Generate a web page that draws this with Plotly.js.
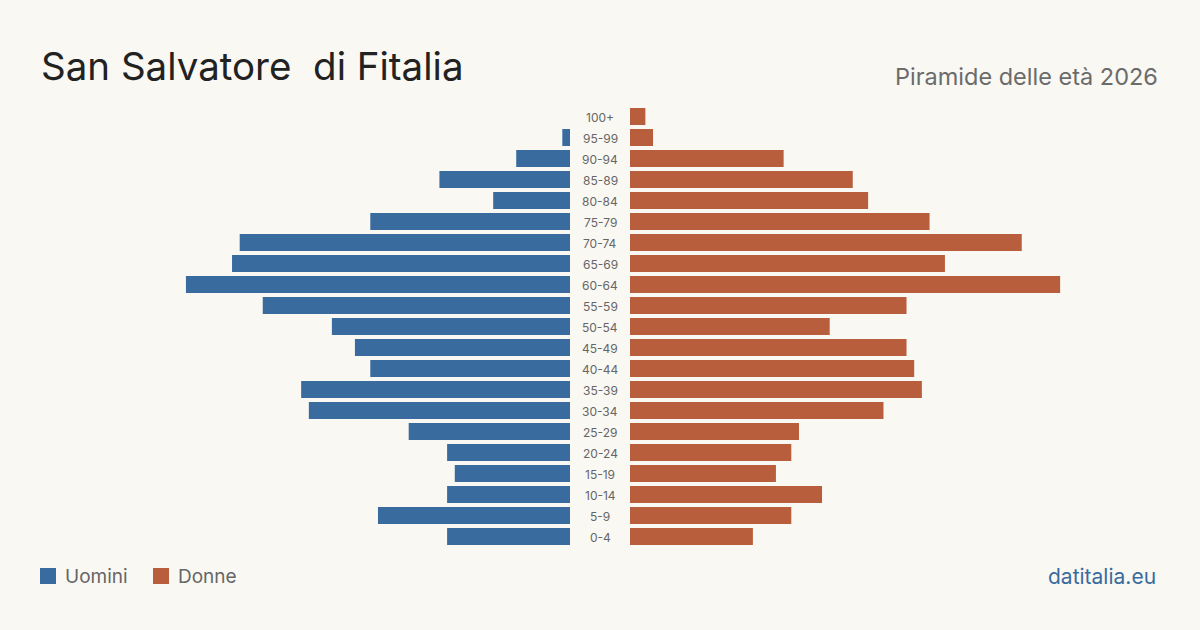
<!DOCTYPE html>
<html>
<head>
<meta charset="utf-8">
<script src="https://cdn.plot.ly/plotly-3.0.1.min.js"></script>
<style>
html,body{margin:0;padding:0;background:#f9f8f3;}
#chart{width:1200px;height:630px;}
</style>
</head>
<body>
<div id="chart"></div>
<script>
const ageGroups = ["0-4","5-9","10-14","15-19","20-24","25-29","30-34","35-39","40-44","45-49","50-54","55-59","60-64","65-69","70-74","75-79","80-84","85-89","90-94","95-99","100+"];
const men   = [16,25,16,15,16,21,34,35,26,28,31,40,50,44,43,26,10,17,7,1,0];
const women = [16,21,25,19,21,22,33,38,37,36,26,36,56,41,51,39,31,29,20,3,2];

const BLUE = "#3a6b9e";
const ORANGE = "#b95e3c";
const FONT = "Inter, 'Open Sans', sans-serif";
const XMAX = 69;

const traces = [
  {type:"bar", orientation:"h", y:ageGroups, x:men, xaxis:"x", yaxis:"y",
   marker:{color:BLUE}, name:"Uomini", hoverinfo:"x+y"},
  {type:"bar", orientation:"h", y:ageGroups, x:women, xaxis:"x2", yaxis:"y",
   marker:{color:ORANGE}, name:"Donne", hoverinfo:"x+y"}
];

const annotations = ageGroups.map(g => ({
  x:0.5, xref:"paper", y:g, yref:"y", text:g, showarrow:false,
  xanchor:"center", yanchor:"middle", yshift:-1, font:{family:FONT, size:12, color:"#666"}
}));

annotations.push(
  {x:39/1200, y:1-66/630, xref:"paper", yref:"paper", text:"San Salvatore  di Fitalia",
   showarrow:false, xanchor:"left", yanchor:"middle", font:{family:FONT, size:38.5, color:"#222"}},
  {x:1160/1200, y:1-76/630, xref:"paper", yref:"paper", text:"Piramide delle età 2026",
   showarrow:false, xanchor:"right", yanchor:"middle", font:{family:FONT, size:23.5, color:"#6b6b6b"}},
  {x:63/1200, y:1-576/630, xref:"paper", yref:"paper", text:"Uomini",
   showarrow:false, xanchor:"left", yanchor:"middle", font:{family:FONT, size:19, color:"#666"}},
  {x:176/1200, y:1-576/630, xref:"paper", yref:"paper", text:"Donne",
   showarrow:false, xanchor:"left", yanchor:"middle", font:{family:FONT, size:19, color:"#666"}},
  {x:1158/1200, y:1-576/630, xref:"paper", yref:"paper", text:"datitalia.eu",
   showarrow:false, xanchor:"right", yanchor:"middle", font:{family:FONT, size:21, color:"#3a6b9e"}}
);

const shapes = [
  {type:"rect", xref:"paper", yref:"paper", x0:40/1200, x1:56/1200, y0:1-584/630, y1:1-568/630,
   fillcolor:BLUE, line:{width:0}},
  {type:"rect", xref:"paper", yref:"paper", x0:153/1200, x1:169/1200, y0:1-584/630, y1:1-568/630,
   fillcolor:ORANGE, line:{width:0}}
];

const layout = {
  width:1200, height:630,
  margin:{l:0,r:0,t:0,b:0},
  paper_bgcolor:"#f9f8f3", plot_bgcolor:"#f9f8f3",
  showlegend:false,
  bargap:0.19,
  xaxis:{domain:[40/1200, 570/1200], range:[XMAX,0], visible:false, fixedrange:true},
  xaxis2:{domain:[630/1200, 1160/1200], range:[0,XMAX], visible:false, fixedrange:true},
  yaxis:{domain:[(630-547)/630, (630-106)/630], range:[-0.5,20.5], type:"category",
         categoryorder:"array", categoryarray:ageGroups, visible:false, fixedrange:true},
  annotations:annotations,
  shapes:shapes,
  font:{family:FONT}
};

Plotly.newPlot("chart", traces, layout, {displayModeBar:false, staticPlot:true});
</script>
</body>
</html>
